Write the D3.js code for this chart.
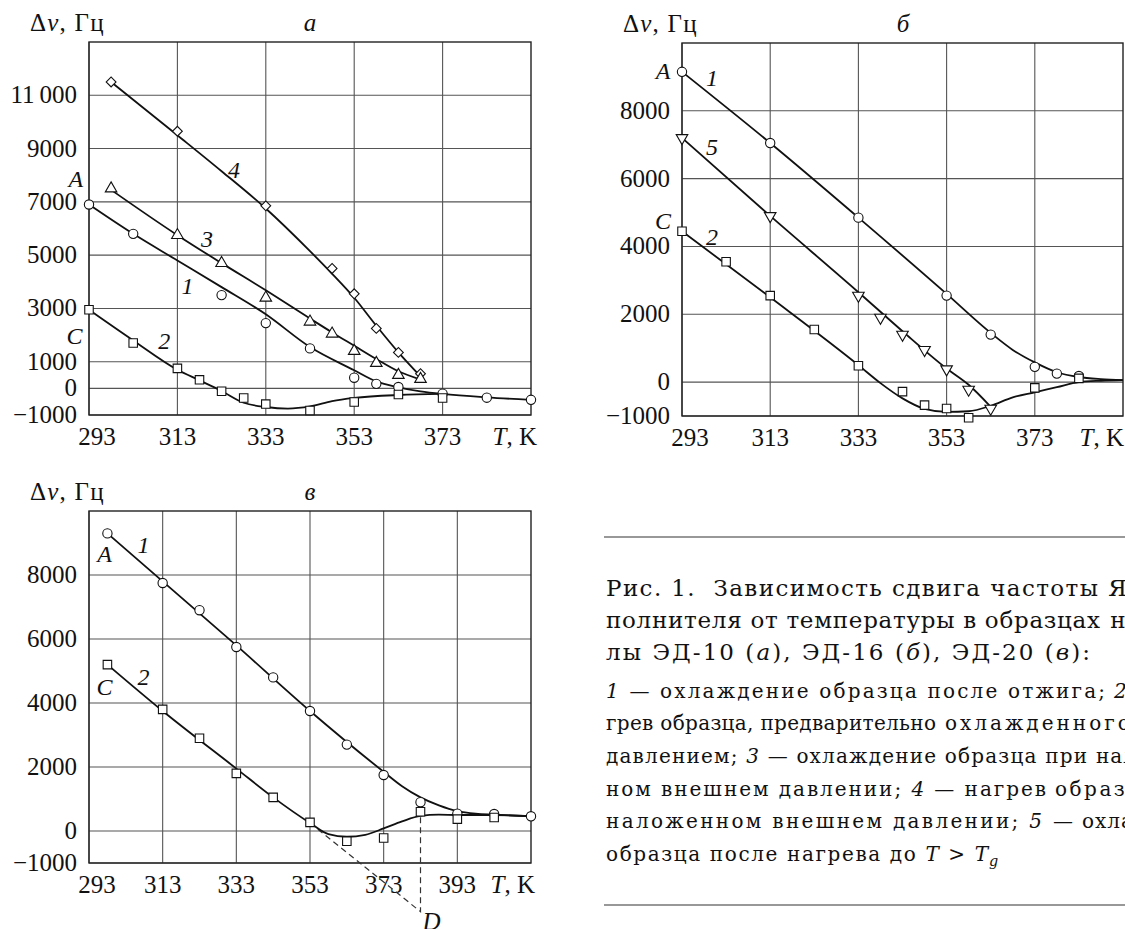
<!DOCTYPE html>
<html><head><meta charset="utf-8">
<script src="https://cdn.jsdelivr.net/npm/d3@7"></script>
<style>
body{margin:0;background:#fff}
</style>
</head><body>
<svg id="chart" width="1125" height="929" font-family="'Liberation Serif','DejaVu Serif',serif"></svg>
<script>
// ---------- Panel а (ЭД-10) ----------
const aTicksX = [293, 313, 333, 353, 373];
const aTicksY = [11000, 9000, 7000, 5000, 3000, 1000, 0, -1000];
const aTickLabelsY = ["11\u2009000", "9000", "7000", "5000", "3000", "1000", "0", "\u22121000"];
// markers
const a4T = [298, 313, 333, 348, 353, 358, 363, 368];
const a4V = [11500, 9650, 6850, 4500, 3550, 2250, 1350, 550];
const a3T = [298, 313, 323, 333, 343, 348, 353, 358, 363, 368];
const a3V = [7500, 5750, 4700, 3400, 2500, 2050, 1400, 950, 500, 350];
const a1T = [293, 303, 323, 333, 343, 353, 358, 363, 373, 383, 393];
const a1V = [6900, 5800, 3500, 2450, 1500, 400, 170, 50, -200, -350, -430];
const a2T = [293, 303, 313, 318, 323, 328, 333, 343, 353, 363, 373];
const a2V = [2950, 1700, 750, 320, -110, -360, -590, -830, -510, -230, -360];
// fitted curves
const a4LineT = [298, 313, 323, 333, 343, 348, 353, 358, 363, 368];
const a4LineV = [11500, 9500, 8150, 6750, 5150, 4300, 3400, 2350, 1350, 450];
const a3LineT = [298, 313, 323, 333, 343, 348, 353, 358, 363, 368];
const a3LineV = [7450, 5750, 4700, 3680, 2620, 2100, 1600, 1100, 640, 330];
const a1LineT = [293, 303, 313, 323, 333, 343, 353, 358, 363, 368, 373, 383, 393];
const a1LineV = [6900, 5800, 4800, 3800, 2780, 1550, 680, 260, 40, -110, -210, -340, -430];
const a2LineT = [293, 303, 313, 318, 323, 328, 333, 338, 343, 348, 353, 363, 373];
const a2LineV = [2950, 1800, 700, 300, -100, -540, -700, -760, -680, -480, -360, -250, -210];

// ---------- Panel б (ЭД-16) ----------
const bTicksX = [293, 313, 333, 353, 373];
const bTicksY = [8000, 6000, 4000, 2000, 0, -1000];
const bTickLabelsY = ["8000", "6000", "4000", "2000", "0", "\u22121000"];
const b1T = [293, 313, 333, 353, 363, 373, 378, 383];
const b1V = [9150, 7050, 4850, 2550, 1400, 450, 250, 180];
const b5T = [293, 313, 333, 338, 343, 348, 353, 358, 363];
const b5V = [7200, 4900, 2550, 1900, 1400, 950, 380, -220, -780];
const b2T = [293, 303, 313, 323, 333, 343, 348, 353, 358, 373, 383];
const b2V = [4450, 3550, 2550, 1550, 480, -280, -680, -780, -1050, -170, 110];
const b1LineT = [293, 313, 333, 353, 363, 368, 373, 378, 383, 388, 393];
const b1LineV = [9150, 7050, 4850, 2600, 1450, 950, 580, 290, 150, 90, 60];
const b5LineT = [293, 313, 333, 343, 353, 358, 363];
const b5LineV = [7200, 4900, 2650, 1500, 400, -80, -730];
const b2LineT = [293, 313, 333, 338, 343, 348, 353, 358, 363, 368, 373, 378, 383, 388, 393];
const b2LineV = [4450, 2500, 500, -30, -480, -790, -880, -860, -700, -450, -300, -150, 0, 40, 60];

// ---------- Panel в (ЭД-20) ----------
const cTicksX = [293, 313, 333, 353, 373, 393];
const cTicksY = [8000, 6000, 4000, 2000, 0, -1000];
const cTickLabelsY = ["8000", "6000", "4000", "2000", "0", "\u22121000"];
const c1T = [298, 313, 323, 333, 343, 353, 363, 373, 383, 393, 403, 413];
const c1V = [9300, 7750, 6900, 5750, 4800, 3750, 2700, 1750, 900, 540, 530, 460];
const c2T = [298, 313, 323, 333, 343, 353, 363, 373, 383, 393, 403];
const c2V = [5200, 3800, 2900, 1800, 1050, 270, -320, -220, 600, 370, 420];
const c1LineT = [298, 313, 333, 353, 373, 378, 383, 388, 393, 398, 403, 413];
const c1LineV = [9300, 7800, 5800, 3750, 1850, 1400, 1050, 800, 620, 540, 510, 460];
const c2LineT = [298, 313, 333, 343, 353, 358, 363, 368, 373, 378, 383, 388, 393, 403, 413];
const c2LineV = [5200, 3750, 1950, 1050, 250, -100, -180, -120, 80, 300, 470, 510, 500, 500, 460];
const cDashT = [353, 383, 383];
const cDashV = [250, -2520, 600];

const svg = d3.select("#chart");

function panel(cfg) {
  const g = svg.append("g");
  const x = d3.scaleLinear().domain(cfg.xDomain).range([cfg.left, cfg.right]);
  const y = d3.scaleLinear().domain(cfg.yDomain).range([cfg.bottom, cfg.top]);
  g.selectAll(".gx").data(cfg.ticksX).enter().append("line")
    .attr("x1", d => x(d)).attr("x2", d => x(d)).attr("y1", cfg.top).attr("y2", cfg.bottom)
    .attr("stroke", "#555").attr("stroke-width", 1.1);
  g.selectAll(".gy").data(cfg.ticksY).enter().append("line")
    .attr("x1", cfg.left).attr("x2", cfg.right).attr("y1", d => y(d)).attr("y2", d => y(d))
    .attr("stroke", "#555").attr("stroke-width", 1.1);
  g.append("rect").attr("x", cfg.left).attr("y", cfg.top)
    .attr("width", cfg.right - cfg.left).attr("height", cfg.bottom - cfg.top)
    .attr("fill", "none").attr("stroke", "#222").attr("stroke-width", 1.4);
  g.selectAll(".lx").data(cfg.ticksX).enter().append("text")
    .attr("x", (d, i) => x(d) + (i === 0 ? 8 : 0)).attr("y", cfg.bottom + 30).attr("text-anchor", "middle")
    .attr("font-size", 25).attr("fill", "#111").text(d => d);
  const tk = g.append("text").attr("x", cfg.tkEnd).attr("y", cfg.bottom + 30)
    .attr("text-anchor", "end").attr("font-size", 25).attr("fill", "#111");
  tk.append("tspan").attr("font-style", "italic").text("T");
  tk.append("tspan").text(", K");
  g.selectAll(".ly").data(cfg.ticksY).enter().append("text")
    .attr("x", cfg.left - 12).attr("y", d => y(d) + 8).attr("text-anchor", "end")
    .attr("font-size", 25).attr("fill", "#111").text((d, i) => cfg.tickLabelsY[i]);
  const at = g.append("text").attr("x", cfg.left - 59).attr("y", cfg.top - 11)
    .attr("font-size", 25).attr("letter-spacing", 1.2).attr("fill", "#111");
  at.append("tspan").text("\u0394");
  at.append("tspan").attr("font-style", "italic").text("\u03bd");
  at.append("tspan").text(", \u0413\u0446");
  g.append("text").attr("x", cfg.titleX).attr("y", cfg.top - 11).attr("text-anchor", "middle")
    .attr("font-size", 25).attr("font-style", "italic").attr("fill", "#111").text(cfg.title);
  if (cfg.dash) {
    const pts = d3.zip(cfg.dash.T, cfg.dash.V).map(d => [x(d[0]), y(d[1])]);
    g.append("path").attr("d", d3.line()(pts))
      .attr("fill", "none").attr("stroke", "#333").attr("stroke-width", 1.2).attr("stroke-dasharray", "6,4");
  }
  const line = d3.line().x(d => x(d[0])).y(d => y(d[1])).curve(d3.curveMonotoneX);
  cfg.lines.forEach(l => {
    g.append("path").attr("d", line(d3.zip(l.T, l.V)))
      .attr("fill", "none").attr("stroke", "#111").attr("stroke-width", 1.8);
  });
  cfg.series.forEach(s => {
    const sym = d3.symbol().type(s.type).size(s.size);
    g.selectAll(null).data(d3.zip(s.T, s.V)).enter().append("path")
      .attr("d", sym)
      .attr("transform", d => `translate(${x(d[0])},${y(d[1])})${s.rot ? " rotate(" + s.rot + ")" : ""}`)
      .attr("fill", "#fff").attr("stroke", "#111").attr("stroke-width", 1.1);
  });
  cfg.labels.forEach(l => {
    g.append("text").attr("x", x(l[1])).attr("y", y(l[2])).attr("text-anchor", "middle")
      .attr("dominant-baseline", "central").attr("font-size", 24).attr("font-style", "italic")
      .attr("fill", "#111").text(l[0]);
  });
  if (cfg.dLabel) {
    g.append("text").attr("x", x(cfg.dLabel[0]) + 2).attr("y", cfg.dLabel[1]).attr("font-size", 25)
      .attr("font-style", "italic").attr("fill", "#111").text("D");
  }
}

panel({
  left: 89, right: 531, top: 42, bottom: 415, xDomain: [293, 393], yDomain: [-1000, 13000],
  ticksX: aTicksX, ticksY: aTicksY, tickLabelsY: aTickLabelsY, tkEnd: 537, title: "\u0430", titleX: 310,
  lines: [{T: a4LineT, V: a4LineV}, {T: a3LineT, V: a3LineV}, {T: a1LineT, V: a1LineV}, {T: a2LineT, V: a2LineV}],
  series: [
    {T: a4T, V: a4V, type: d3.symbolSquare, size: 48, rot: 45},
    {T: a3T, V: a3V, type: d3.symbolTriangle, size: 58},
    {T: a1T, V: a1V, type: d3.symbolCircle, size: 68},
    {T: a2T, V: a2V, type: d3.symbolSquare, size: 72}
  ],
  labels: [["4", 325.8, 8190], ["3", 319.7, 5600], ["1", 315.3, 3850], ["2", 310, 1760], ["A", 290, 7850], ["C", 289.7, 1950]]
});

panel({
  left: 682, right: 1123, top: 43, bottom: 416, xDomain: [293, 393], yDomain: [-1000, 10000],
  ticksX: bTicksX, ticksY: bTicksY, tickLabelsY: bTickLabelsY, tkEnd: 1124, title: "\u0431", titleX: 903,
  lines: [{T: b1LineT, V: b1LineV}, {T: b5LineT, V: b5LineV}, {T: b2LineT, V: b2LineV}],
  series: [
    {T: b1T, V: b1V, type: d3.symbolCircle, size: 68},
    {T: b5T, V: b5V, type: d3.symbolTriangle, size: 58, rot: 180},
    {T: b2T, V: b2V, type: d3.symbolSquare, size: 72}
  ],
  labels: [["A", 288.7, 9166], ["1", 299.8, 8970], ["5", 299.8, 6930], ["C", 288.7, 4750], ["2", 299.8, 4280]]
});

panel({
  left: 89, right: 531, top: 511, bottom: 863, xDomain: [293, 413], yDomain: [-1000, 10000],
  ticksX: cTicksX, ticksY: cTicksY, tickLabelsY: cTickLabelsY, tkEnd: 535, title: "\u0432", titleX: 310,
  lines: [{T: c1LineT, V: c1LineV}, {T: c2LineT, V: c2LineV}],
  series: [
    {T: c1T, V: c1V, type: d3.symbolCircle, size: 68},
    {T: c2T, V: c2V, type: d3.symbolSquare, size: 72}
  ],
  dash: {T: cDashT, V: cDashV},
  dLabel: [383, 930],
  labels: [["A", 297.2, 8670], ["1", 307.8, 8930], ["C", 297.2, 4510], ["2", 307.8, 4820]]
});

// ---------- Caption ----------
// each line: justified visible part (fitted to width) + rest (continues past the right edge)
const captionLines = [
  {parts: [["Рис. 1.  Зависимость сдвига частоты", 0]], rest: [["ЯМР на-", 0]], ls: 0, end: 1098, size: 23, y: 596},
  {parts: [["полнителя от температуры в образцах", 0]], rest: [["на основе смо-", 0]], ls: 0, end: 1100, size: 23, y: 628},
  {parts: [["лы ЭД-10 (", 0], ["а", 1], ["), ЭД-16 (", 0], ["б", 1], ["), ЭД-20 (", 0], ["в", 1], ["):", 0]], rest: null, end: 1090, size: 23, y: 660},
  {parts: [["1", 1], [" — охлаждение образца после отжига;", 0]], rest: [["2", 1], [" — на-", 0]], ls: 0, end: 1105, size: 20, y: 698},
  {parts: [["грев образца, предварительно", 0]], rest: [["охлажденного под", 0]], ls: 3, end: 936, size: 20, y: 730},
  {parts: [["давлением; ", 0], ["3", 1], [" — охлаждение образца при", 0]], rest: [["наложен-", 0]], ls: 1, end: 1087, size: 20, y: 763},
  {parts: [["ном внешнем давлении; ", 0], ["4", 1], [" — нагрев", 0]], rest: [["образца при", 0]], ls: 2.5, end: 1046, size: 20, y: 796},
  {parts: [["наложенном внешнем давлении; ", 0], ["5", 1], [" —", 0]], rest: [["охлаждение", 0]], ls: 1, end: 1073, size: 20, y: 828},
  {parts: [["образца после нагрева до ", 0], ["T", 1], [" > ", 0], ["T", 1]], rest: null, end: 988, size: 20, y: 861, sub: "g"}
];

const capX = 606;
const cap = svg.append("g").attr("font-family", "'DejaVu Serif','Liberation Serif',serif").attr("fill", "#111");
cap.append("line").attr("x1", 604).attr("x2", 1125).attr("y1", 537).attr("y2", 537).attr("stroke", "#333").attr("stroke-width", 1.2);
cap.append("line").attr("x1", 604).attr("x2", 1125).attr("y1", 905).attr("y2", 905).attr("stroke", "#333").attr("stroke-width", 1.2);

captionLines.forEach(L => {
  const t = cap.append("text").attr("x", capX).attr("y", L.y).attr("font-size", L.size)
    .attr("textLength", L.end - capX).attr("lengthAdjust", "spacing")
    .attr("xml:space", "preserve").style("white-space", "pre");
  L.parts.forEach(p => t.append("tspan").attr("font-style", p[1] ? "italic" : null).text(p[0]));
  if (L.rest) {
    const r = cap.append("text").attr("x", L.end + L.size * 0.45).attr("y", L.y).attr("font-size", L.size)
      .attr("letter-spacing", L.ls).attr("xml:space", "preserve").style("white-space", "pre");
    L.rest.forEach(p => r.append("tspan").attr("font-style", p[1] ? "italic" : null).text(p[0]));
  }
  if (L.sub) {
    cap.append("text").attr("x", L.end + 1).attr("y", L.y + 5).attr("font-size", L.size * 0.72)
      .attr("font-style", "italic").text(L.sub);
  }
});
</script>
</body></html>
